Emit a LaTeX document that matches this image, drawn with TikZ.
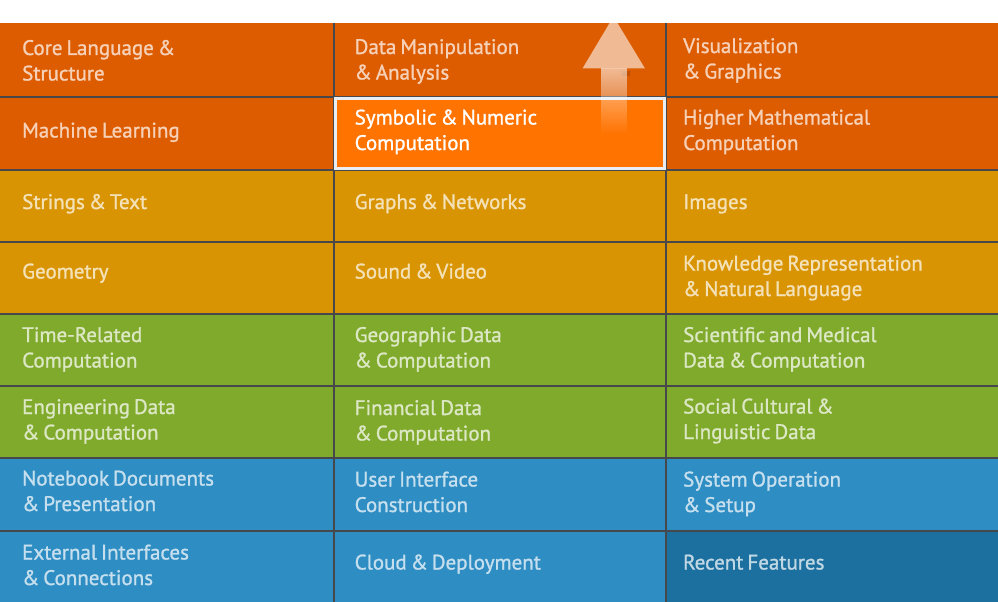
\documentclass[tikz,border=0pt]{standalone}
\usepackage{fontspec}
\setmainfont{PT Sans}[FakeBold=1.2,WordSpace=0.72]
\usetikzlibrary{fadings}
\definecolor{cOrange}{RGB}{221,92,0}
\definecolor{cHigh}{RGB}{255,115,0}
\definecolor{cAmber}{RGB}{216,148,2}
\definecolor{cGreen}{RGB}{128,170,44}
\definecolor{cBlue}{RGB}{46,141,194}
\definecolor{cDark}{RGB}{28,112,160}
\definecolor{cLine}{RGB}{70,72,76}
\definecolor{cBorder}{RGB}{232,238,244}
\tikzset{
  celltext/.style={anchor=base west, inner sep=0pt, font=\fontsize{21}{25.5}\selectfont},
  tOrange/.style={celltext, text=white!72!cOrange},
  tAmber/.style={celltext, text=white!72!cAmber},
  tGreen/.style={celltext, text=white!72!cGreen},
  tBlue/.style={celltext, text=white!72!cBlue},
  tDark/.style={celltext, text=white!72!cDark},
  tHigh/.style={celltext, text=white},
  grid line/.style={draw=cLine, line width=2pt},
}
\newcommand{\two}[2]{\begin{tabular}[t]{@{}l@{}}#1\\#2\end{tabular}}
\begin{document}
\begin{tikzpicture}[x=1pt,y=-1pt]
\useasboundingbox (0,0) rectangle (998,602);
\renewcommand{\arraystretch}{1}
% backgrounds
\fill[cOrange] (0,23) rectangle (998,169.5);
\fill[cAmber] (0,169.5) rectangle (998,313.5);
\fill[cGreen] (0,313.5) rectangle (998,457.5);
\fill[cBlue] (0,457.5) rectangle (998,602);
\fill[cDark] (666,530.5) rectangle (998,602);
\fill[cHigh] (333.5,96.5) rectangle (666,169.5);
% grid lines
\foreach \y in {96.5,169.5,241.5,313.5,385.5,457.5,530.5}
  \draw[grid line] (0,\y) -- (998,\y);
\foreach \x in {333.5,666}
  \draw[grid line] (\x,23) -- (\x,602);
% highlight border
\draw[cBorder, line width=3pt] (335,98) rectangle (664.5,168);
% texts row 1
\node[tOrange] (c11) at (22,55) {\two{Core Language \&}{Structure}};
\node[tOrange] (c12) at (354.5,54) {\two{Data Manipulation}{\& Analysis}};
\node[tOrange] (c13) at (683,53) {\two{Visualization}{\& Graphics}};
% row 2
\node[tOrange] (c21) at (22,137.5) {Machine Learning};
\node[tHigh] (c22) at (354.5,124.5) {\two{Symbolic \& Numeric}{Computation}};
\node[tOrange] (c23) at (683,124.5) {\two{Higher Mathematical}{Computation}};
% row 3
\node[tAmber] (c31) at (22,209) {Strings \& Text};
\node[tAmber] (c32) at (354.5,209) {Graphs \& Networks};
\node[tAmber] (c33) at (683,209) {Images};
% row 4
\node[tAmber] (c41) at (22,278.5) {Geometry};
\node[tAmber] (c42) at (354.5,278.5) {Sound \& Video};
\node[tAmber] (c43) at (683,270.5) {\two{Knowledge Representation}{\& Natural Language}};
% row 5
\node[tGreen] (c51) at (22,342) {\two{Time-Related}{Computation}};
\node[tGreen] (c52) at (354.5,342) {\two{Geographic Data}{\& Computation}};
\node[tGreen] (c53) at (683,342) {\two{Scientific and Medical}{Data \& Computation}};
% row 6
\node[tGreen] (c61) at (22,414) {\two{Engineering Data}{\& Computation}};
\node[tGreen] (c62) at (354.5,415) {\two{Financial Data}{\& Computation}};
\node[tGreen] (c63) at (683,413.5) {\two{Social Cultural \&}{Linguistic Data}};
% row 7
\node[tBlue] (c71) at (22,485.5) {\two{Notebook Documents}{\& Presentation}};
\node[tBlue] (c72) at (354.5,486.5) {\two{User Interface}{Construction}};
\node[tBlue] (c73) at (683,486.5) {\two{System Operation}{\& Setup}};
% row 8
\node[tBlue] (c81) at (22,559.5) {\two{External Interfaces}{\& Connections}};
\node[tBlue] (c82) at (354.5,569.5) {Cloud \& Deployment};
\node[tDark] (c83) at (683,569.5) {Recent Features};
% arrow
\fill[black, opacity=0.12] (648,71) -- (630,71) -- (630,76) -- (622,76) -- (622,71) -- cycle;
\fill[white, opacity=0.58] (613.5,16.5) -- (645,68.5) -- (582.5,68.5) -- cycle;
\fill[white, opacity=0.58, path fading=south] (601,68.5) rectangle (627,134);
\end{tikzpicture}
\end{document}
